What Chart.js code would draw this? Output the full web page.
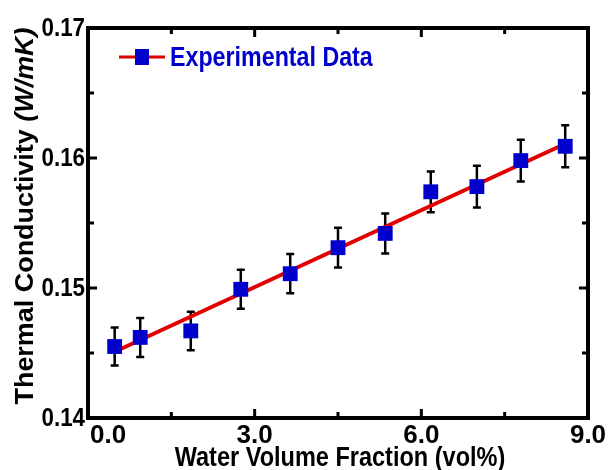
<!DOCTYPE html>
<html>
<head>
<meta charset="utf-8">
<script src="https://cdn.jsdelivr.net/npm/chart.js@4/dist/chart.umd.min.js"></script>
<style>
html,body{margin:0;padding:0;background:#fff;}
#wrap{width:613px;height:470px;position:relative;}
</style>
</head>
<body>
<div id="wrap"><canvas id="c" width="613" height="470"></canvas></div>
<script>
// ---- data ----
const waterFraction = [0.48, 0.94, 1.85, 2.75, 3.64, 4.50, 5.35, 6.17, 7.00, 7.79, 8.59];
const conductivity  = [0.1455, 0.1462, 0.1467, 0.1499, 0.1511, 0.1531, 0.1542, 0.1574, 0.1578, 0.1598, 0.1609];
const errorBar      = [0.00146, 0.00150, 0.00148, 0.00150, 0.00151, 0.00153, 0.00154, 0.00157, 0.00160, 0.00160, 0.00161];
const fitX = [0.48, 8.59];
const fitY = [0.1451, 0.1611];
const xTickLabels = ['0.0', '3.0', '6.0', '9.0'];
const yTickLabels = ['0.14', '0.15', '0.16', '0.17'];
const legendLabel = 'Experimental Data';
const xTitle = 'Water Volume Fraction (vol%)';
const yTitleMain = 'Thermal Conductivity ';
const yTitleUnit = '(W/mK)';

const FONT = '"Liberation Sans", Arial, sans-serif';
const BLUE = '#0000CC';
const RED = '#E10000';

function squeezeText(ctx, text, x, y, align, sx) {
  ctx.save();
  ctx.translate(x, y);
  ctx.scale(sx, 1);
  ctx.textAlign = align;
  ctx.fillText(text, 0, 0);
  ctx.restore();
}

const errorBarPlugin = {
  id: 'errorBars',
  beforeDatasetsDraw(chart) {
    const ctx = chart.ctx, xs = chart.scales.x, ys = chart.scales.y;
    ctx.save();
    ctx.strokeStyle = '#000';
    ctx.lineWidth = 2.5;
    waterFraction.forEach((xv, i) => {
      const px = xs.getPixelForValue(xv);
      const top = ys.getPixelForValue(conductivity[i] + errorBar[i]);
      const bot = ys.getPixelForValue(conductivity[i] - errorBar[i]);
      ctx.beginPath();
      ctx.moveTo(px, top); ctx.lineTo(px, bot);
      ctx.moveTo(px - 4, top); ctx.lineTo(px + 4, top);
      ctx.moveTo(px - 4, bot); ctx.lineTo(px + 4, bot);
      ctx.stroke();
    });
    ctx.restore();
  }
};

const framePlugin = {
  id: 'frame',
  afterDatasetsDraw(chart) {
    const ctx = chart.ctx, a = chart.chartArea, xs = chart.scales.x, ys = chart.scales.y;
    ctx.save();
    ctx.strokeStyle = '#000';
    ctx.lineWidth = 3;
    ctx.beginPath();
    xs.ticks.forEach((t, i) => {
      const px = xs.getPixelForValue(t.value);
      const len = (i % 2 === 0) ? 9 : 6;
      ctx.moveTo(px, a.bottom); ctx.lineTo(px, a.bottom - len);
      ctx.moveTo(px, a.top); ctx.lineTo(px, a.top + len);
    });
    ys.ticks.forEach((t, i) => {
      const py = ys.getPixelForValue(t.value);
      const len = (i % 2 === 0) ? 9 : 6;
      ctx.moveTo(a.left, py); ctx.lineTo(a.left + len, py);
      ctx.moveTo(a.right, py); ctx.lineTo(a.right - len, py);
    });
    ctx.stroke();
    ctx.lineWidth = 4;
    ctx.strokeRect(a.left, a.top, a.right - a.left, a.bottom - a.top);
    ctx.restore();
  },
  afterDraw(chart) {
    const ctx = chart.ctx, a = chart.chartArea, xs = chart.scales.x, ys = chart.scales.y;
    ctx.save();
    ctx.fillStyle = '#000';
    // x tick labels (first one set just inside the axis, as in the reference)
    ctx.font = 'bold 26px ' + FONT;
    ctx.textBaseline = 'top';
    let k = 0;
    xs.ticks.forEach((t, i) => {
      if (i % 2 !== 0) return;
      const px = xs.getPixelForValue(t.value);
      squeezeText(ctx, xTickLabels[k], k === 0 ? px + 2 : px, a.bottom + 5, k === 0 ? 'left' : 'center', 1);
      k++;
    });
    // y tick labels
    ctx.textBaseline = 'middle';
    k = 0;
    ys.ticks.forEach((t, i) => {
      if (i % 2 !== 0) return;
      const py = ys.getPixelForValue(t.value);
      squeezeText(ctx, yTickLabels[k], a.left - 3, py + 1, 'right', 0.86);
      k++;
    });
    // x title
    ctx.font = 'bold 28px ' + FONT;
    ctx.textBaseline = 'alphabetic';
    squeezeText(ctx, xTitle, (a.left + a.right) / 2 + 2, 466, 'center', 0.84);
    // legend
    const ly = 57;
    ctx.strokeStyle = RED; ctx.lineWidth = 3;
    ctx.beginPath(); ctx.moveTo(119, ly); ctx.lineTo(165, ly); ctx.stroke();
    ctx.fillStyle = BLUE;
    ctx.fillRect(135, ly - 8, 14, 16);
    ctx.font = 'bold 28px ' + FONT;
    ctx.textBaseline = 'middle';
    squeezeText(ctx, legendLabel, 170, ly + 1, 'left', 0.83);
    // y title with italic unit
    ctx.fillStyle = '#000';
    ctx.translate(33, 216);
    ctx.rotate(-Math.PI / 2);
    const f1 = 'bold 26px ' + FONT, f2 = 'italic bold 26px ' + FONT;
    ctx.font = f1; const w1 = ctx.measureText(yTitleMain).width;
    ctx.font = f2; const w2 = ctx.measureText(yTitleUnit).width;
    const s = 377 / (w1 + w2);
    ctx.scale(s, 1);
    const start = -(w1 + w2) / 2;
    ctx.textAlign = 'left';
    ctx.textBaseline = 'alphabetic';
    ctx.font = f1; ctx.fillText(yTitleMain, start, 0);
    ctx.font = f2; ctx.fillText(yTitleUnit, start + w1, 0);
    ctx.restore();
  }
};

new Chart(document.getElementById('c'), {
  type: 'scatter',
  data: {
    datasets: [
      {
        label: legendLabel,
        data: waterFraction.map((x, i) => ({x, y: conductivity[i]})),
        pointStyle: 'rect',
        pointRadius: 10.5,
        pointHoverRadius: 10.5,
        backgroundColor: BLUE,
        borderColor: BLUE,
        borderWidth: 0,
        showLine: false,
        order: 0
      },
      {
        label: 'fit',
        data: fitX.map((x, i) => ({x, y: fitY[i]})),
        showLine: true,
        borderColor: RED,
        borderWidth: 4,
        pointRadius: 0,
        order: 1
      }
    ]
  },
  options: {
    responsive: false,
    animation: false,
    events: [],
    layout: {padding: {left: 0, right: 25, top: 28, bottom: 0}},
    plugins: {legend: {display: false}, tooltip: {enabled: false}},
    scales: {
      x: {
        type: 'linear', min: 0, max: 9,
        grid: {display: false, drawTicks: false},
        border: {display: false},
        ticks: {stepSize: 1.5, display: false},
        afterFit(s) { s.height = 52; }
      },
      y: {
        type: 'linear', min: 0.14, max: 0.17,
        grid: {display: false, drawTicks: false},
        border: {display: false},
        ticks: {stepSize: 0.005, display: false},
        afterFit(s) { s.width = 88; }
      }
    }
  },
  plugins: [errorBarPlugin, framePlugin]
});
</script>
</body>
</html>
